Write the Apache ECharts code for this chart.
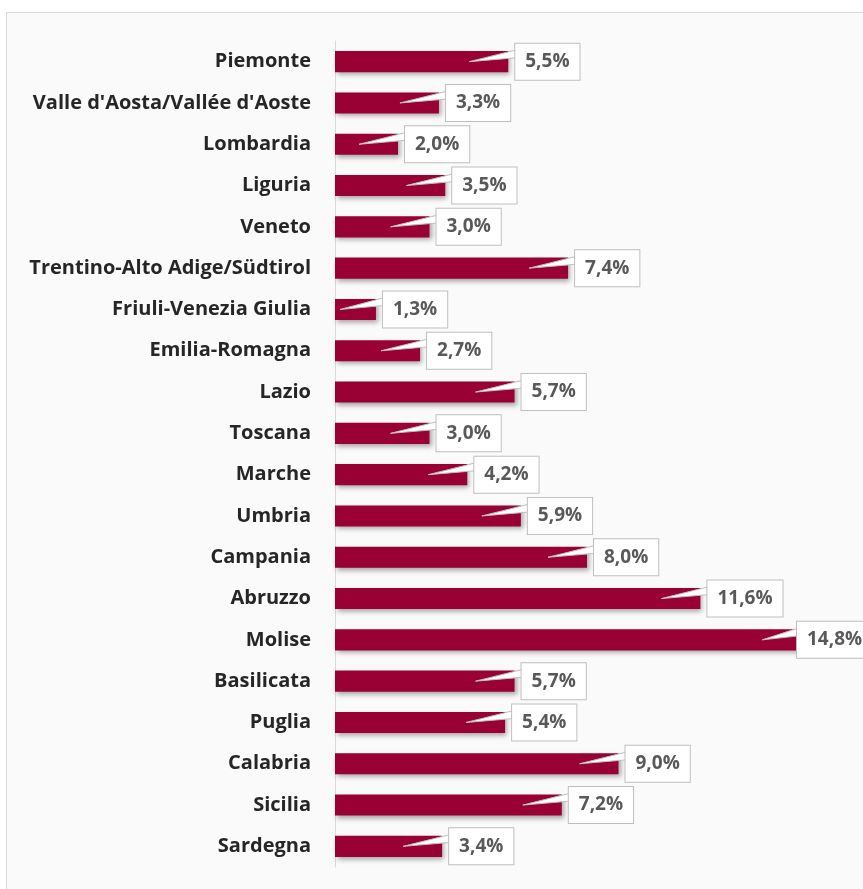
<!DOCTYPE html>
<html>
<head>
<meta charset="utf-8">
<script src="https://cdn.jsdelivr.net/npm/echarts@6/dist/echarts.min.js"></script>
<style>
  html, body { margin: 0; padding: 0; background: #ffffff; }
  #chart { width: 863px; height: 889px; }
</style>
</head>
<body>
<div id="chart"></div>
<script>
// regioni
const regioni = ['Piemonte', "Valle d'Aosta/Vallée d'Aoste", 'Lombardia', 'Liguria', 'Veneto',
  'Trentino-Alto Adige/Südtirol', 'Friuli-Venezia Giulia', 'Emilia-Romagna', 'Lazio', 'Toscana',
  'Marche', 'Umbria', 'Campania', 'Abruzzo', 'Molise', 'Basilicata', 'Puglia', 'Calabria',
  'Sicilia', 'Sardegna'];
// valori %
const valori = [5.5, 3.3, 2.0, 3.5, 3.0, 7.4, 1.3, 2.7, 5.7, 3.0, 4.2, 5.9, 8.0, 11.6, 14.8, 5.7, 5.4, 9.0, 7.2, 3.4];
const etichette = valori.map(v => v.toFixed(1).replace('.', ',') + '%');

const myChart = echarts.init(document.getElementById('chart'));

// callout: cuneo + riquadro con testo
const renderCallout = (params, api) => {
  const v = api.value(0);
  const idx = api.value(1);
  const end = api.coord([v, idx]);
  const start = api.coord([0, idx]);
  const cs = params.coordSys;
  const bx = Math.min(end[0] + 7, cs.x + cs.width - 42);
  const top = end[1] - 18;
  const tipX = Math.max(start[0] + 5, end[0] - 39);
  return {
    type: 'group',
    children: [
      {
        type: 'polygon',
        shape: { points: [[tipX, end[1]], [bx + 2, top + 6], [bx + 2, top + 14]] },
        style: { fill: '#ffffff', stroke: '#bfbfbf', lineWidth: 1 }
      },
      {
        type: 'text',
        x: bx,
        y: top,
        style: {
          text: etichette[params.dataIndex],
          font: 'bold 19px "Open Sans", sans-serif',
          fill: '#595959',
          backgroundColor: '#ffffff',
          borderColor: '#bfbfbf',
          borderWidth: 1,
          padding: [8, 10, 8, 10],
          lineHeight: 20,
          align: 'left',
          verticalAlign: 'top'
        }
      }
    ]
  };
};

const option = {
  animation: false,
  graphic: [{
    type: 'rect',
    z: -10,
    shape: { x: 6.5, y: 12.5, width: 900, height: 900 },
    style: { fill: '#fafafa', stroke: '#d9d9d9', lineWidth: 1 }
  }],
  grid: { left: 335, top: 41, width: 504, height: 826, containLabel: false },
  xAxis: {
    type: 'value',
    min: 0,
    max: 16,
    show: false
  },
  yAxis: {
    type: 'category',
    data: regioni,
    inverse: true,
    axisLine: { show: true, lineStyle: { color: '#d9d9d9', width: 1 } },
    axisTick: { show: false },
    splitLine: { show: false },
    axisLabel: {
      margin: 24,
      color: '#262626',
      fontFamily: '"Open Sans", sans-serif',
      fontWeight: 'bold',
      fontSize: 20
    }
  },
  series: [
    {
      name: 'valore',
      type: 'bar',
      data: valori,
      barWidth: '51%',
      itemStyle: {
        color: '#990033',
        shadowColor: 'rgba(0,0,0,0.35)',
        shadowBlur: 5,
        shadowOffsetX: 2,
        shadowOffsetY: 3
      }
    },
    {
      name: 'etichette',
      type: 'custom',
      renderItem: renderCallout,
      data: valori.map((v, i) => [v, i]),
      encode: { x: 0, y: 1 },
      z: 5
    }
  ]
};
myChart.setOption(option);
window.addEventListener('resize', () => {
  myChart.resize();
});
</script>
</body>
</html>
